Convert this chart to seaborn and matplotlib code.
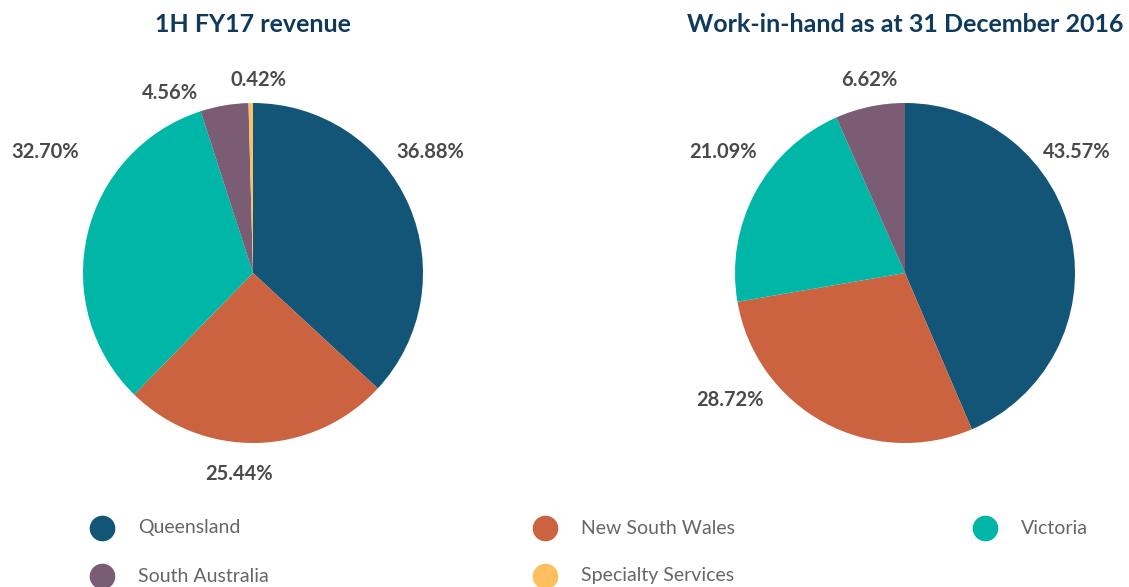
import matplotlib
matplotlib.use("Agg")
import matplotlib.pyplot as plt
import seaborn as sns

sns.set_theme(style="white")
plt.rcParams['font.family'] = ['Lato', 'DejaVu Sans']

# ---- data ----
regions = ["Queensland", "New South Wales", "Victoria", "South Australia", "Specialty Services"]
revenue_pct = [36.88, 25.44, 32.70, 4.56, 0.42]
wih_regions = ["Queensland", "New South Wales", "Victoria", "South Australia"]
wih_pct = [43.57, 28.72, 21.09, 6.62]
titles = ["1H FY17 revenue", "Work-in-hand as at 31 December 2016"]

colors = {"Queensland": "#125577", "New South Wales": "#CC6340", "Victoria": "#00B7A7",
          "South Australia": "#7A5C74", "Specialty Services": "#FDBF60"}

# label placements (style): (x, y) in pie-radius units
left_label_pos = [(1.04, 0.71), (-0.08, -1.18), (-1.22, 0.71), (-0.49, 1.06), (0.03, 1.135)]
right_label_pos = [(1.01, 0.71), (-1.03, -0.75), (-1.07, 0.71), (-0.21, 1.135)]

W, H = 1129, 587
fig = plt.figure(figsize=(W / 100, H / 100), dpi=100)
R_PX, HALF = 170, 240

def pie_axes(cx, cy):
    ax = fig.add_axes([(cx - HALF) / W, (H - cy - HALF) / H, 2 * HALF / W, 2 * HALF / H])
    return ax

def draw(ax, names, vals, label_pos, title, cx):
    ax.pie(vals, colors=[colors[n] for n in names], startangle=90, counterclock=False,
           radius=1.0, wedgeprops=dict(linewidth=0))
    ax.set_xlim(-HALF / R_PX, HALF / R_PX)
    ax.set_ylim(-HALF / R_PX, HALF / R_PX)
    ax.set_aspect('equal')
    ax.axis('off')
    for v, (x, y) in zip(vals, label_pos):
        ax.text(x, y, f"{v:.2f}%", ha='center', va='center', fontsize=14.5,
                fontweight='bold', color='#4A4A4A', clip_on=False)
    fig.text(cx / W, (H - 25) / H, title, ha='center', va='center', fontsize=18,
             fontweight='bold', color='#0F3A5C')

ax1 = pie_axes(253, 273)
draw(ax1, regions, revenue_pct, left_label_pos, titles[0], 253)
ax2 = pie_axes(905, 273)
draw(ax2, wih_regions, wih_pct, right_label_pos, titles[1], 905)

# legend (manual grid)
lax = fig.add_axes([0, 0, 1, 1])
lax.set_xlim(0, W)
lax.set_ylim(H, 0)
lax.axis('off')
col_x = [102, 545, 985]
row_y = [528, 576]
for i, name in enumerate(regions):
    c, r = i % 3, i // 3
    lax.scatter([col_x[c]], [row_y[r]], s=340, color=colors[name], linewidths=0, clip_on=False)
    lax.text(col_x[c] + 36, row_y[r], name, ha='left', va='center', fontsize=14,
             color='#666666', clip_on=False)

fig.savefig("out.png", dpi=100)
